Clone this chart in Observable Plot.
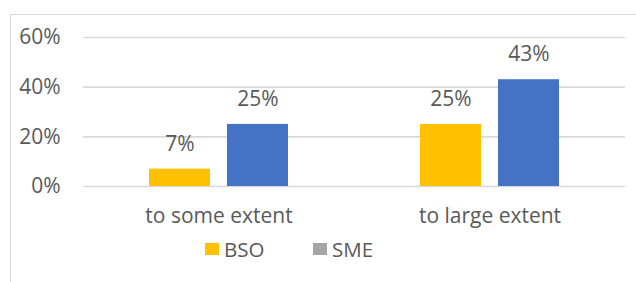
<!DOCTYPE html>
<html>
<head>
<meta charset="utf-8">
<script src="https://cdn.jsdelivr.net/npm/d3@7"></script>
<script src="https://cdn.jsdelivr.net/npm/@observablehq/plot@0.6"></script>
<style>
  html, body { margin: 0; padding: 0; background: #fff; overflow: hidden; }
  #wrap { position: relative; width: 636px; height: 282px; overflow: hidden; font-family: "Open Sans", sans-serif; }
  #frame { position: absolute; left: 10px; top: 14px; width: 700px; height: 320px; border: 1.5px solid #d9d9d9; box-sizing: border-box; }
  #chart { position: absolute; left: 0; top: 0; }
  .leg { position: absolute; top: 237px; height: 24px; display: flex; align-items: center; font-size: 20.5px; color: #595959; }
  .sw { width: 14px; height: 12px; margin-right: 5px; }
</style>
</head>
<body>
<div id="wrap">
  <div id="frame"></div>
  <div id="chart"></div>
  <div id="legend"></div>
</div>
<script>
const categories = ["to some extent", "to large extent"];
const series = ["BSO", "SME"];
const bsoValues = [0.07, 0.25];
const smeValues = [0.25, 0.43];
const yTicks = [0, 0.2, 0.4, 0.6];
const barColors = ["#FFC000", "#4472C4"];
const legendColors = ["#FFC000", "#A5A5A5"];

const data = [];
categories.forEach((c, i) => {
  data.push({category: c, series: "BSO", value: bsoValues[i]});
  data.push({category: c, series: "SME", value: smeValues[i]});
});

const pct = d3.format(".0%");

const chart = Plot.plot({
  width: 636,
  height: 232,
  marginLeft: 83,
  marginRight: 11,
  marginTop: 37,
  marginBottom: 46,
  style: {fontFamily: "Open Sans", fontSize: "21px", color: "#595959", background: "transparent"},
  fx: {domain: categories, padding: 0, axis: "bottom", tickSize: 0, tickPadding: 22, label: null},
  x: {domain: series, paddingInner: 0.218, paddingOuter: 0.846, axis: null},
  y: {domain: [0, 0.6], ticks: yTicks, tickFormat: pct, tickSize: 0, tickPadding: 23, label: null},
  color: {domain: series, range: barColors},
  marks: [
    Plot.ruleY(yTicks, {stroke: "#d9d9d9", strokeWidth: 1.6}),
    Plot.barY(data, {fx: "category", x: "series", y: "value", fill: "series"}),
    Plot.text(data, {fx: "category", x: "series", y: "value", text: d => pct(d.value), dy: -18.5, lineAnchor: "bottom", fill: "#595959"})
  ]
});
document.getElementById("chart").appendChild(chart);

const legend = document.getElementById("legend");
const legendLeft = [205, 313];
series.forEach((s, i) => {
  const item = document.createElement("div");
  item.className = "leg";
  item.style.left = legendLeft[i] + "px";
  const sw = document.createElement("div");
  sw.className = "sw";
  sw.style.background = legendColors[i];
  const t = document.createElement("span");
  t.textContent = s;
  item.appendChild(sw);
  item.appendChild(t);
  legend.appendChild(item);
});
</script>
</body>
</html>
